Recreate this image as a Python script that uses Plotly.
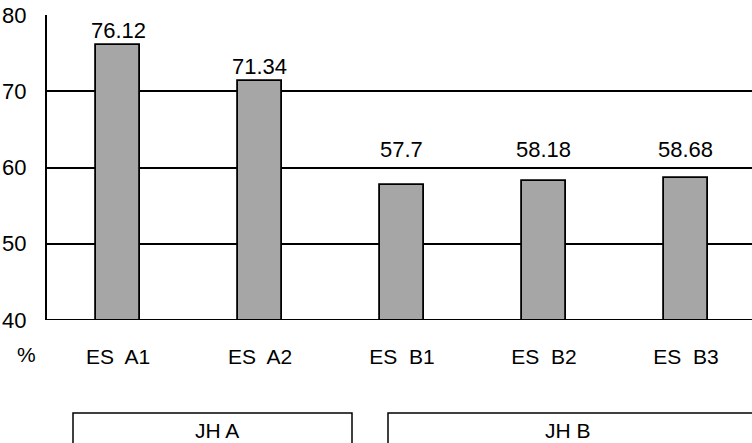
import plotly.graph_objects as go

# Category labels, values and groupings
schools = ["ES  A1", "ES  A2", "ES  B1", "ES  B2", "ES  B3"]
rates = [76.12, 71.34, 57.7, 58.18, 58.68]
groups = ["JH A", "JH B"]
y_ticks = [40, 50, 60, 70, 80]

FONT = "Liberation Sans, Arial, sans-serif"
W, H = 752, 443
ML, MR, MT, MB = 47, 0, 15, 123
PLOT_W = W - ML - MR
PLOT_H = H - MT - MB


def px_x(x):
    """Pixel column -> paper x."""
    return (x - ML) / PLOT_W


def px_y(y):
    """Pixel row -> paper y."""
    return (H - MB - y) / PLOT_H


fig = go.Figure()
fig.add_trace(go.Bar(
    x=list(range(len(schools))),
    y=rates,
    base=0,
    width=0.31,
    marker=dict(color="#a6a6a6", line=dict(color="black", width=1.8)),
    hoverinfo="skip",
))

# Value labels above each bar (kept clear of the 60 gridline)
for i, v in enumerate(rates):
    fig.add_annotation(
        x=i, y=max(v, 60.5), xref="x", yref="y",
        text=f"{v:g}", showarrow=False, yanchor="bottom", yshift=0,
        font=dict(family=FONT, size=22, color="black"),
    )

# "%" unit label at the bottom-left
fig.add_annotation(
    x=px_x(26), y=px_y(354), xref="paper", yref="paper", text="%",
    showarrow=False, xanchor="center", yanchor="middle",
    font=dict(family=FONT, size=21, color="black"),
)

fig.update_layout(
    width=W, height=H,
    margin=dict(l=ML, r=MR, t=MT, b=MB),
    plot_bgcolor="white", paper_bgcolor="white",
    showlegend=False,
    bargap=0,
    xaxis=dict(
        range=[-0.5, 4.465],
        tickmode="array", tickvals=list(range(len(schools))), ticktext=schools,
        showgrid=False, zeroline=False, showline=False,
        ticks="", ticklabelstandoff=22,
        tickfont=dict(family=FONT, size=21, color="black"),
    ),
    yaxis=dict(
        range=[40, 80],
        tickmode="array", tickvals=y_ticks,
        showgrid=True, gridcolor="black", gridwidth=2,
        zeroline=False, showline=True, linecolor="black", linewidth=2,
        ticks="", ticklabelstandoff=14,
        tickfont=dict(family=FONT, size=22, color="black"),
    ),
)

# Bottom axis line at 40
fig.add_shape(type="line", xref="paper", yref="y", x0=0, x1=1, y0=40, y1=40,
              line=dict(color="black", width=2))

# Group boxes below the category labels
group_spans = [(73, 352), (388, 770)]
group_label_x = [217, 568]
for name, (x0, x1), lx in zip(groups, group_spans, group_label_x):
    fig.add_shape(
        type="rect", xref="paper", yref="paper",
        x0=px_x(x0), x1=px_x(x1), y0=px_y(413), y1=px_y(460),
        line=dict(color="black", width=1.5), fillcolor="white", layer="above",
    )
    fig.add_annotation(
        x=px_x(lx), y=px_y(430), xref="paper", yref="paper",
        text=name, showarrow=False, xanchor="center", yanchor="middle",
        font=dict(family=FONT, size=21, color="black"),
    )

fig.write_html("out.html")
